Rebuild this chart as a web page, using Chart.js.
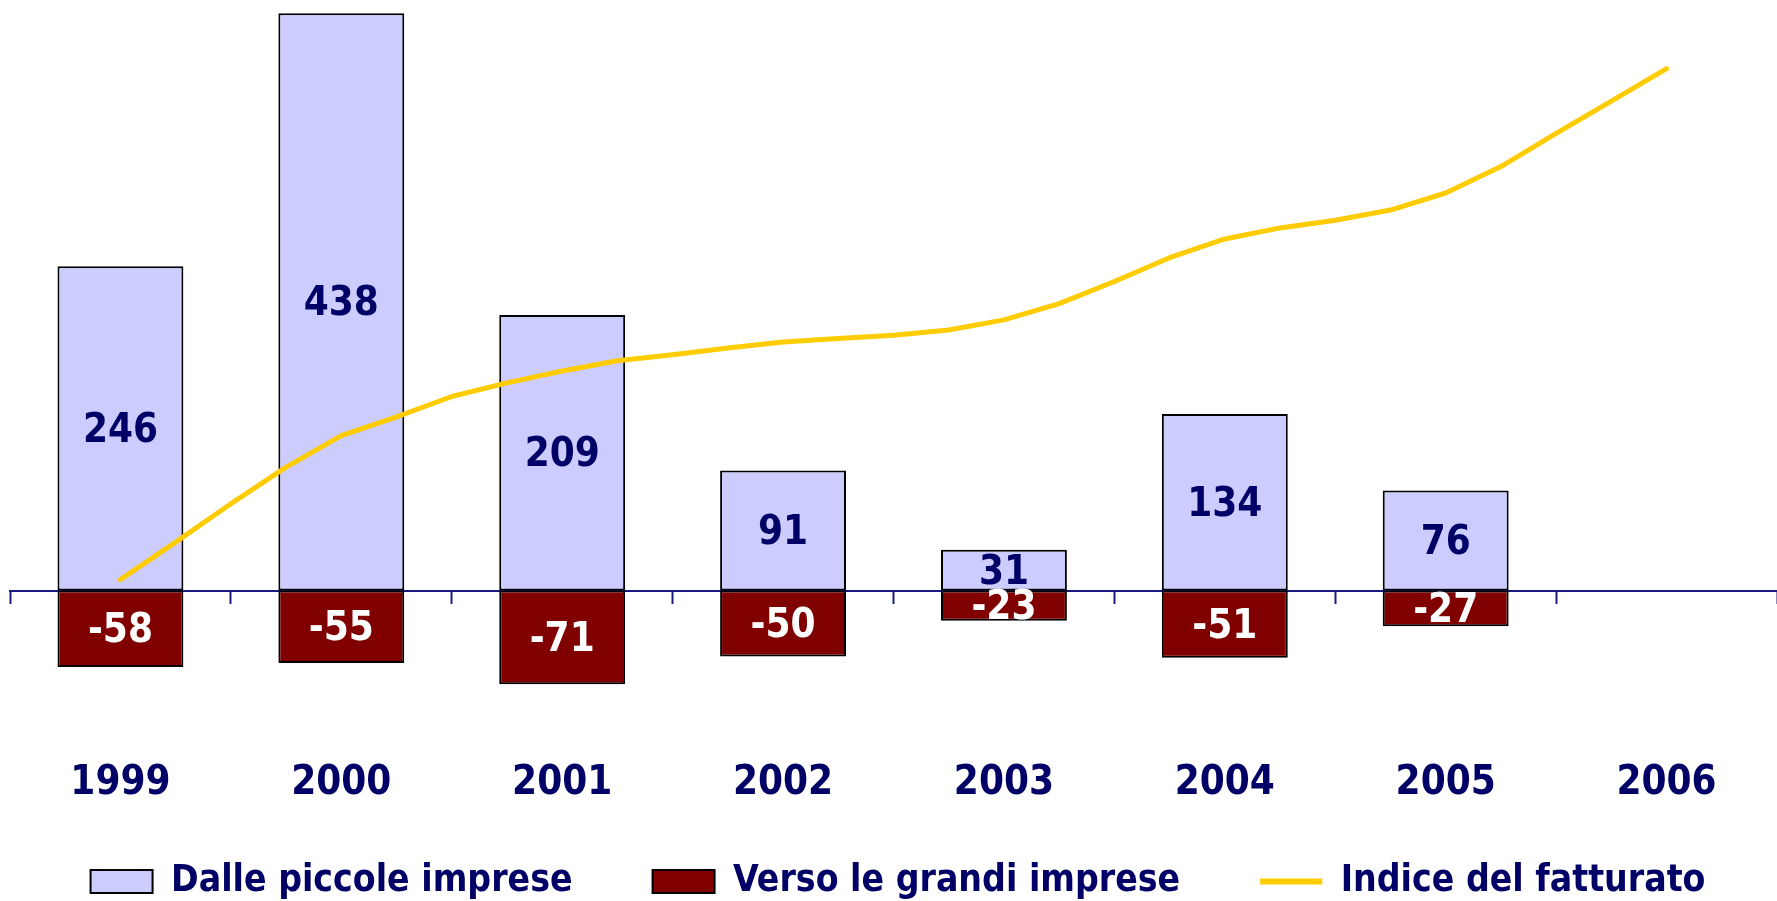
<!DOCTYPE html>
<html>
<head>
<meta charset="utf-8">
<script src="https://cdn.jsdelivr.net/npm/chart.js@4.4.1/dist/chart.umd.min.js"></script>
<style>
  html, body { margin: 0; padding: 0; background: #fff; overflow: hidden; }
  #wrap { width: 1777px; height: 901px; position: relative; }
</style>
</head>
<body>
<div id="wrap"><canvas id="chart"></canvas></div>
<script>
// ------------ DATA ----------------
const years = ["1999", "2000", "2001", "2002", "2003", "2004", "2005", "2006"];
const dallePiccole = [246, 438, 209, 91, 31, 134, 76, null];
const versoGrandi = [-58, -55, -71, -50, -23, -51, -27, null];

// quarterly turnover index, 1999 .. 2006
const quarters = [
  1999, 1999.25, 1999.5, 1999.75, 2000, 2000.25, 2000.5, 2000.75,
  2001, 2001.25, 2001.5, 2001.75, 2002, 2002.25, 2002.5, 2002.75,
  2003, 2003.25, 2003.5, 2003.75, 2004, 2004.25, 2004.5, 2004.75,
  2005, 2005.25, 2005.5, 2005.75, 2006
];
const indiceFatturato = [
  102.4, 106.8, 111.3, 115.6, 119.3, 121.5, 123.9, 125.5,
  126.9, 128.1, 128.8, 129.6, 130.3, 130.7, 131.1, 131.7,
  132.9, 134.8, 137.4, 140.2, 142.4, 143.7, 144.6, 145.8,
  147.8, 150.9, 154.8, 158.6, 162.4
];

const NAVY = "#000066";
const FONT = "'DejaVu Sans Condensed', 'DejaVu Sans', sans-serif";

// value labels in the middle of each bar
const barLabels = {
  id: "barLabels",
  afterDatasetsDraw(chart) {
    const ctx = chart.ctx;
    ctx.save();
    ctx.font = `bold 40px ${FONT}`;
    ctx.textAlign = "center";
    ctx.textBaseline = "middle";
    chart.data.datasets.forEach((ds, i) => {
      if (ds.type !== "bar") return;
      const meta = chart.getDatasetMeta(i);
      ctx.fillStyle = ds.labelColor;
      meta.data.forEach((bar, j) => {
        const v = ds.data[j];
        if (v == null) return;
        ctx.fillText(String(v), bar.x, (bar.y + bar.base) / 2 + 3);
      });
    });
    ctx.restore();
  },
};

new Chart(document.getElementById("chart"), {
  type: "bar",
  data: {
    labels: years,
    datasets: [
      {
        type: "bar",
        label: "Dalle piccole imprese",
        data: dallePiccole,
        backgroundColor: "#ccccff",
        borderColor: "#000000",
        borderWidth: 2,
        borderSkipped: false,
        labelColor: NAVY,
        order: 1,
      },
      {
        type: "bar",
        label: "Verso le grandi imprese",
        data: versoGrandi,
        backgroundColor: "#800000",
        borderColor: "#000000",
        borderWidth: 2,
        borderSkipped: false,
        labelColor: "#ffffff",
        order: 1,
      },
      {
        type: "line",
        label: "Indice del fatturato",
        data: quarters.map((q, i) => ({ x: q, y: indiceFatturato[i] })),
        xAxisID: "xq",
        yAxisID: "yi",
        borderColor: "#ffcc00",
        backgroundColor: "#ffcc00",
        borderWidth: 5,
        borderCapStyle: "round",
        borderJoinStyle: "round",
        pointRadius: 0,
        tension: 0,
        order: -1,
      },
    ],
  },
  options: {
    responsive: true,
    maintainAspectRatio: false,
    animation: false,
    layout: { padding: { top: 4, left: 10, right: -9, bottom: 0 } },
    datasets: {
      // one column per year, positive and negative bar share it
      bar: { categoryPercentage: 1, barPercentage: 0.57, grouped: false },
    },
    scales: {
      x: {
        position: { y: 0 },
        offset: true,
        grid: {
          offset: true,
          drawOnChartArea: false,
          drawTicks: true,
          tickLength: 12,
          tickWidth: 2,
          color: "#1a1a80",
        },
        border: { display: true, color: "#1a1a80", width: 2 },
        ticks: { display: false },
      },
      // year labels, hung well below the zero line
      xl: {
        type: "category",
        position: { y: -128 },
        offset: true,
        grid: { display: false, drawTicks: false, tickLength: 0 },
        border: { display: false },
        ticks: {
          color: NAVY,
          padding: 0,
          font: { family: FONT, size: 40, weight: "bold" },
        },
      },
      y: {
        display: false,
        min: -146,
        max: 445,
      },
      xq: {
        type: "linear",
        display: false,
        offset: false,
        min: 1998.5,
        max: 2006.5,
      },
      yi: {
        type: "linear",
        display: false,
        min: 78.5,
        max: 170,
      },
    },
    plugins: {
      tooltip: { enabled: false },
      legend: {
        position: "bottom",
        maxHeight: 118,
        labels: {
          color: NAVY,
          font: { family: FONT, size: 37, weight: "bold" },
          usePointStyle: true,
          pointStyleWidth: 62,
          boxHeight: 23,
          padding: 80,
          sort: (a, b) => a.datasetIndex - b.datasetIndex,
          generateLabels(chart) {
            const items = Chart.defaults.plugins.legend.labels.generateLabels(chart);
            items.forEach((it) => {
              if (it.datasetIndex === 2) {
                it.pointStyle = "line";
                it.lineWidth = 6;
                it.strokeStyle = "#ffcc00";
              } else {
                it.pointStyle = "rect";
                it.lineWidth = 2;
                it.strokeStyle = "#000000";
              }
            });
            return items;
          },
        },
      },
    },
  },
  plugins: [barLabels],
});
</script>
</body>
</html>
